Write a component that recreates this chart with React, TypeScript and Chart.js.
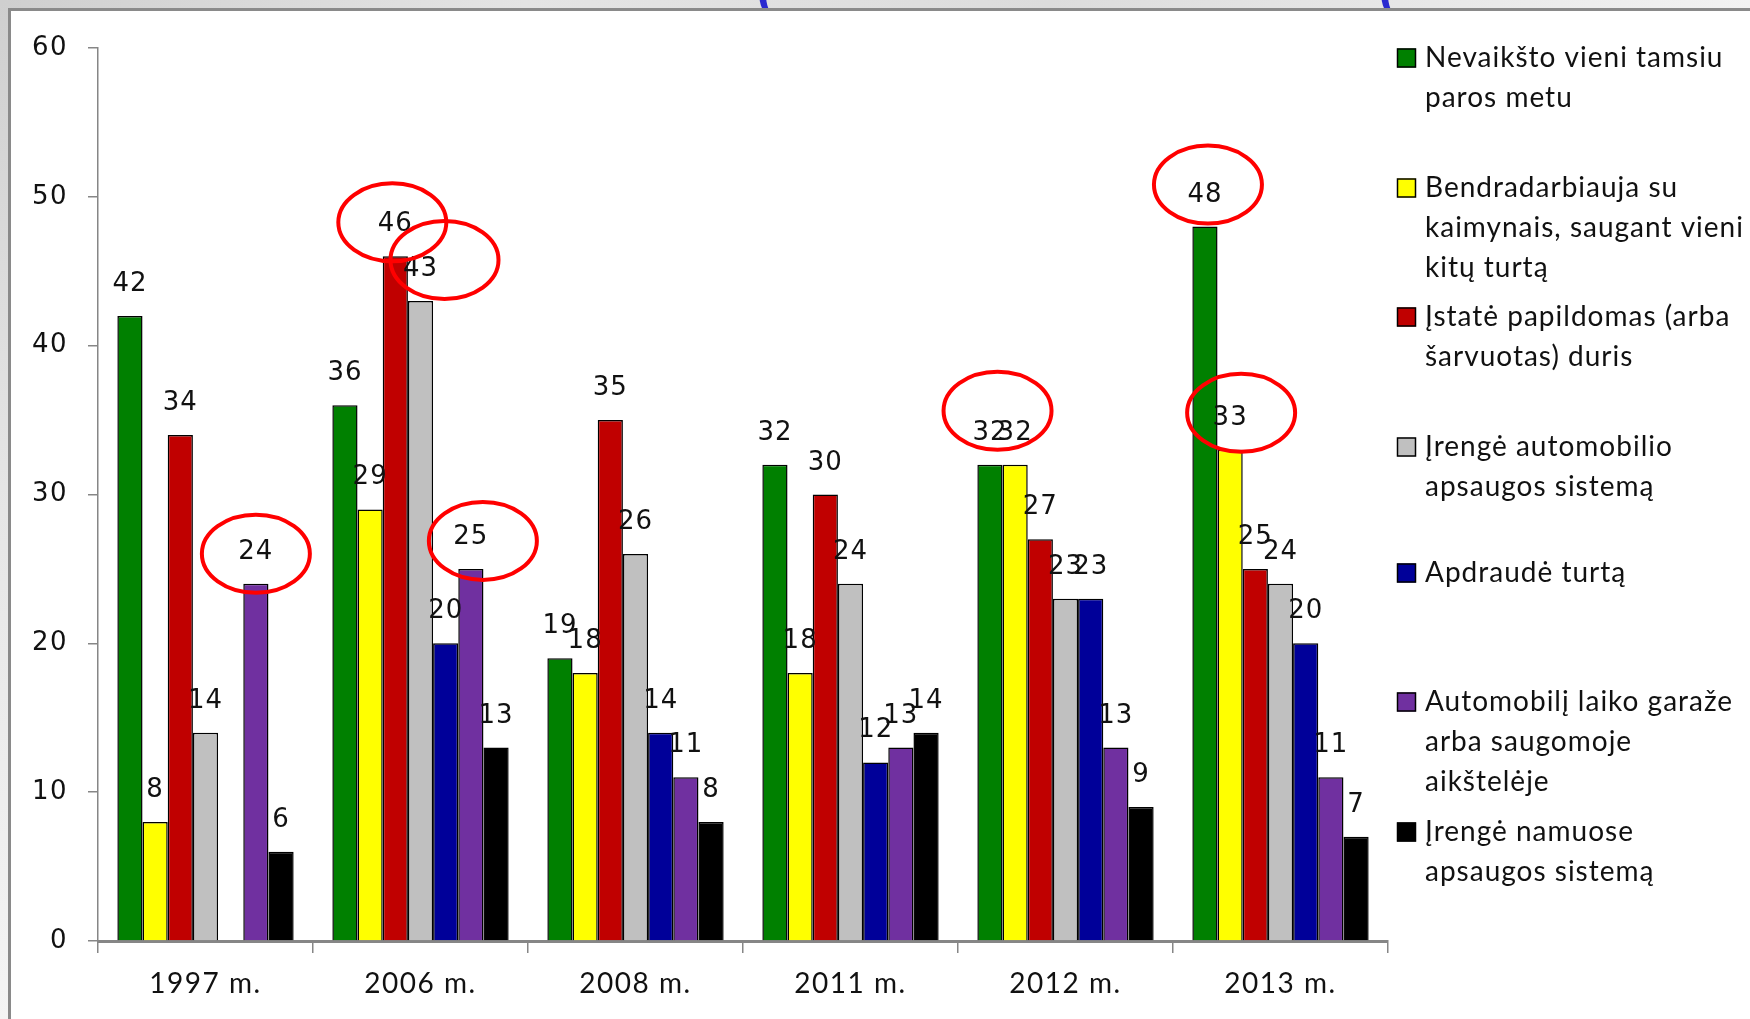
import React, { useEffect, useRef } from "react";
import { Chart, registerables } from "chart.js";

Chart.register(...registerables);

const categories = ["1997 m.", "2006 m.", "2008 m.", "2011 m.", "2012 m.", "2013 m."];

const seriesNames: string[][] = [
  ["Nevaikšto vieni tamsiu", "paros metu"],
  ["Bendradarbiauja su", "kaimynais, saugant vieni", "kitų turtą"],
  ["Įstatė papildomas (arba", "šarvuotas) duris"],
  ["Įrengė automobilio", "apsaugos sistemą"],
  ["Apdraudė turtą"],
  ["Automobilį laiko garaže", "arba saugomoje", "aikštelėje"],
  ["Įrengė namuose", "apsaugos sistemą"],
];

const walkAlone = [42, 36, 19, 32, 32, 48];
const neighbours = [8, 29, 18, 18, 32, 33];
const doors = [34, 46, 35, 30, 27, 25];
const carAlarm = [14, 43, 26, 24, 23, 24];
const insured = [null, 20, 14, 12, 23, 20];
const garage = [24, 25, 11, 13, 13, 11];
const homeAlarm = [6, 13, 8, 14, 9, 7];

const seriesValues = [walkAlone, neighbours, doors, carAlarm, insured, garage, homeAlarm];
const seriesColors = ["#008000", "#FFFF00", "#C00000", "#C0C0C0", "#000099", "#7030A0", "#000000"];

const yTicks = [0, 10, 20, 30, 40, 50, 60];

// highlighted (circled) labels: category index, dataset indices, offset of ellipse
const highlights = [
  { cat: 0, ds: [5], dx: 0, dy: 6 },
  { cat: 1, ds: [2], dx: -3, dy: 2 },
  { cat: 1, ds: [3], dx: 24, dy: -5 },
  { cat: 1, ds: [5], dx: 12, dy: 8 },
  { cat: 4, ds: [0, 1], dx: -5, dy: -18 },
  { cat: 5, ds: [0], dx: 3, dy: -6 },
  { cat: 5, ds: [1], dx: 11, dy: -1 },
];

const legendRowY = [58, 188, 317, 447, 573, 702, 832];

export default function App() {
  const ref = useRef<HTMLCanvasElement | null>(null);

  useEffect(() => {
    document.body.style.margin = "0";
    const canvas = ref.current;
    if (!canvas) return;

    const framePlugin = {
      id: "frame",
      beforeDraw(chart: any) {
        const ctx = chart.ctx;
        const W = chart.width;
        const H = chart.height;
        ctx.save();
        const gTop = ctx.createLinearGradient(0, 0, W, 0);
        gTop.addColorStop(0, "#cfcfcf");
        gTop.addColorStop(0.3, "#e4e4e4");
        gTop.addColorStop(0.6, "#dcdcdc");
        gTop.addColorStop(1, "#f2f2f2");
        ctx.fillStyle = gTop;
        ctx.fillRect(0, 0, W, 10);
        const gLeft = ctx.createLinearGradient(0, 0, 0, H);
        gLeft.addColorStop(0, "#cfcfcf");
        gLeft.addColorStop(0.5, "#e6e6e6");
        gLeft.addColorStop(1, "#f4f4f4");
        ctx.fillStyle = gLeft;
        ctx.fillRect(0, 0, 10, H);
        ctx.fillStyle = "#ffffff";
        ctx.fillRect(10, 10, W - 10, H - 10);
        ctx.strokeStyle = "#8a8a8a";
        ctx.lineWidth = 3;
        ctx.beginPath();
        ctx.moveTo(9.5, H);
        ctx.lineTo(9.5, 9.5);
        ctx.lineTo(W, 9.5);
        ctx.stroke();
        ctx.beginPath();
        ctx.rect(0, 0, W, 8);
        ctx.clip();
        ctx.fillStyle = "#2a2ad0";
        ctx.font = "bold 40px 'DejaVu Sans'";
        ctx.textBaseline = "alphabetic";
        ctx.fillText("(", 756, 9);
        ctx.fillText("(", 1378, 9);
        ctx.restore();
        // slightly looser text, as in the original slide
        ctx.letterSpacing = "1.5px";
      },
    };

    const labelPlugin = {
      id: "valueLabels",
      afterDatasetsDraw(chart: any) {
        const ctx = chart.ctx;
        ctx.save();
        ctx.letterSpacing = "1px";
        ctx.font = "26px 'DejaVu Sans'";
        ctx.fillStyle = "#111";
        ctx.textAlign = "center";
        ctx.textBaseline = "alphabetic";
        chart.data.datasets.forEach((ds: any, di: number) => {
          const meta = chart.getDatasetMeta(di);
          meta.data.forEach((el: any, i: number) => {
            const v = ds.data[i];
            if (v === null || v === undefined) return;
            ctx.fillText(String(v), el.x, el.y - 25);
          });
        });
        ctx.strokeStyle = "#FF0000";
        ctx.lineWidth = 4;
        highlights.forEach((h) => {
          let sx = 0;
          let sy = 0;
          h.ds.forEach((d) => {
            const el = chart.getDatasetMeta(d).data[h.cat];
            sx += el.x;
            sy += el.y;
          });
          const cx = sx / h.ds.length + h.dx;
          const cy = sy / h.ds.length - 36 + h.dy;
          ctx.beginPath();
          ctx.ellipse(cx, cy, 54, 39, 0, 0, Math.PI * 2);
          ctx.stroke();
        });
        ctx.restore();
      },
    };

    const legendPlugin = {
      id: "sideLegend",
      afterDraw(chart: any) {
        const ctx = chart.ctx;
        ctx.save();
        ctx.letterSpacing = "1px";
        ctx.font = "28px Lato";
        ctx.textAlign = "left";
        ctx.textBaseline = "middle";
        seriesNames.forEach((lines, i) => {
          const y = legendRowY[i];
          ctx.fillStyle = seriesColors[i];
          ctx.fillRect(1397, y - 9.5, 19, 19);
          ctx.strokeStyle = "#000";
          ctx.lineWidth = 1.5;
          ctx.strokeRect(1397.5, y - 9, 18, 18);
          ctx.fillStyle = "#111";
          lines.forEach((t, li) => {
            ctx.fillText(t, 1425, y + li * 40);
          });
        });
        ctx.restore();
      },
    };

    const chart = new Chart(canvas, {
      type: "bar",
      data: {
        labels: categories,
        datasets: seriesValues.map((vals, i) => ({
          label: seriesNames[i].join(" "),
          data: vals,
          backgroundColor: seriesColors[i],
          borderColor: "#000000",
          borderWidth: 1.5,
          barPercentage: 1.0,
          categoryPercentage: 0.82,
        })),
      },
      options: {
        responsive: false,
        maintainAspectRatio: false,
        animation: false,
        layout: { padding: { left: 0, right: 362, top: 48, bottom: 0 } },
        plugins: {
          legend: { display: false },
          tooltip: { enabled: false },
        },
        scales: {
          x: {
            afterFit: (s: any) => {
              s.height = 78;
            },
            ticks: {
              font: { family: "Lato", size: 28 },
              color: "#111",
              padding: 14,
            },
            grid: {
              offset: true,
              drawOnChartArea: false,
              drawTicks: true,
              tickLength: 12,
              color: "#868686",
              lineWidth: 1.5,
            },
            border: { display: true, color: "#868686", width: 3 },
          },
          y: {
            min: yTicks[0],
            max: yTicks[yTicks.length - 1],
            afterFit: (s: any) => {
              s.width = 98;
            },
            afterBuildTicks: (s: any) => {
              s.ticks = yTicks.map((v) => ({ value: v }));
            },
            ticks: {
              font: { family: "'DejaVu Sans'", size: 26 },
              color: "#111",
              padding: 20,
            },
            grid: {
              drawOnChartArea: false,
              drawTicks: true,
              tickLength: 10,
              color: "#868686",
              lineWidth: 1.5,
            },
            border: { display: true, color: "#868686", width: 1.5 },
          },
        },
      },
      plugins: [framePlugin, labelPlugin, legendPlugin],
    });

    return () => chart.destroy();
  }, []);

  return (
    <div style={{ width: 1750, height: 1019, position: "relative" }}>
      <canvas ref={ref} width={1750} height={1019} style={{ display: "block" }} />
    </div>
  );
}
